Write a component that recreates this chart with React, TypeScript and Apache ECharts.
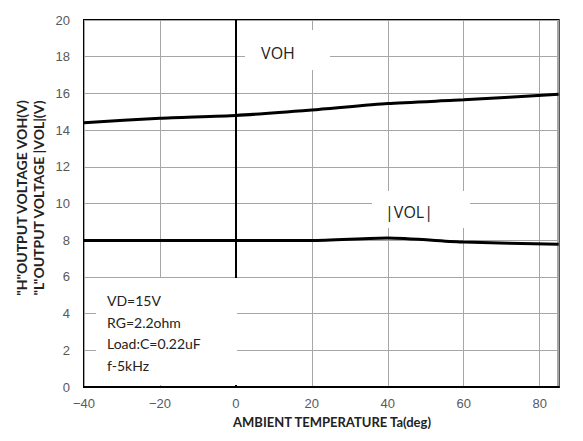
import React, { useEffect, useRef } from "react";
import * as echarts from "echarts";

const temps = [-40, -20, 0, 20, 40, 60, 85];
const voh = [14.4, 14.65, 14.8, 15.1, 15.45, 15.65, 15.95];
const vol = [7.98, 7.98, 7.98, 7.98, 8.12, 7.9, 7.78];
const xMin = -40;
const xMax = 85;
const yMin = 0;
const yMax = 20;
const xTitle = "AMBIENT TEMPERATURE Ta(deg)";
const yTitle = '"H"OUTPUT VOLTAGE VOH(V)\n"L"OUTPUT VOLTAGE |VOL|(V)';
const conditions = ["VD=15V", "RG=2.2ohm", "Load:C=0.22uF", "f-5kHz"];

export default function App() {
  const ref = useRef<HTMLDivElement>(null);
  useEffect(() => {
    if (!ref.current) return;
    const chart = echarts.init(ref.current, undefined, { renderer: "svg" });
    const gray = "#a6a6a6";
    chart.setOption({
      animation: false,
      grid: {
        left: 84,
        right: 2,
        top: 8,
        bottom: 54,
        show: true,
        borderColor: "#000",
        borderWidth: 2,
        backgroundColor: "rgba(0,0,0,0)",
      },
      xAxis: [
        {
          type: "value",
          min: xMin,
          max: xMax,
          interval: 20,
          splitLine: { lineStyle: { color: gray } },
          axisLine: { lineStyle: { color: "#000", width: 2 } },
          axisTick: { show: false },
          axisLabel: {
            color: "#595959",
            fontSize: 13,
            margin: 10,
            showMaxLabel: false,
            formatter: (v: number) => (v < 0 ? "\u2212" + Math.abs(v) : String(v)),
          },
        },
        {
          type: "value",
          min: xMin,
          max: xMax,
          position: "top",
          axisLine: { lineStyle: { color: "#000", width: 2 } },
          axisLabel: { color: "rgba(0,0,0,0)" },
          axisTick: { lineStyle: { color: "rgba(0,0,0,0)" } },
          splitLine: { lineStyle: { color: "rgba(0,0,0,0)" } },
        },
      ],
      yAxis: [
        {
          type: "value",
          min: yMin,
          max: yMax,
          interval: 2,
          splitLine: { lineStyle: { color: gray } },
          axisLine: { lineStyle: { color: "#000", width: 2 } },
          axisTick: { show: false },
          axisLabel: { color: "#595959", fontSize: 13, margin: 14 },
        },
        {
          type: "value",
          min: yMin,
          max: yMax,
          position: "right",
          axisLine: { lineStyle: { color: "#000", width: 2 } },
          axisLabel: { color: "rgba(0,0,0,0)" },
          axisTick: { lineStyle: { color: "rgba(0,0,0,0)" } },
          splitLine: { lineStyle: { color: "rgba(0,0,0,0)" } },
        },
      ],
      graphic: [
        {
          type: "text",
          x: 332,
          y: 422,
          style: {
            text: xTitle,
            fill: "#222",
            font: "bold 13px Lato",
            align: "center",
            verticalAlign: "middle",
          },
        },
        {
          type: "text",
          x: 30,
          y: 198,
          rotation: Math.PI / 2,
          style: {
            text: yTitle,
            fill: "#222",
            font: "bold 14px Lato",
            lineHeight: 17,
            align: "center",
            verticalAlign: "middle",
          },
        },
        { type: "rect", z: 3, shape: { x: 245, y: 30, width: 85, height: 40 }, style: { fill: "#fff" } },
        {
          type: "text",
          z: 4,
          x: 278,
          y: 53,
          style: { text: "VOH", fill: "#222", font: "16px 'Open Sans'", align: "center", verticalAlign: "middle" },
        },
        { type: "rect", z: 3, shape: { x: 372, y: 191, width: 98, height: 37 }, style: { fill: "#fff" } },
        {
          type: "text",
          z: 4,
          x: 409,
          y: 212,
          style: { text: "|VOL|", fill: "#222", font: "16px 'Open Sans'", align: "center", verticalAlign: "middle" },
        },
        { type: "rect", z: 3, shape: { x: 96, y: 278, width: 141, height: 107 }, style: { fill: "#fff" } },
        {
          type: "text",
          z: 4,
          x: 107,
          y: 333,
          style: {
            text: conditions.join("\n"),
            fill: "#222",
            font: "14px Lato",
            lineHeight: 21.5,
            align: "left",
            verticalAlign: "middle",
          },
        },
      ],
      series: [
        {
          type: "line",
          name: "VOH",
          data: temps.map((t, i) => [t, voh[i]]),
          showSymbol: false,
          smooth: 0.2,
          lineStyle: { color: "#000", width: 3 },
          z: 5,
        },
        {
          type: "line",
          name: "VOL",
          data: temps.map((t, i) => [t, vol[i]]),
          showSymbol: false,
          smooth: 0.2,
          lineStyle: { color: "#000", width: 3 },
          z: 5,
        },
      ],
    });
    return () => chart.dispose();
  }, []);
  return <div ref={ref} style={{ position: "absolute", left: 0, top: 0, width: 583, height: 441 }} />;
}
